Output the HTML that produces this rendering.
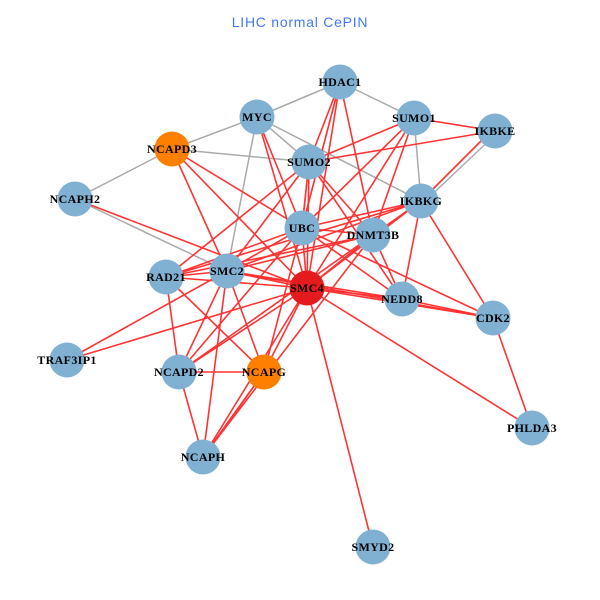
<!DOCTYPE html>
<html><head><meta charset="utf-8"><style>
html,body{margin:0;padding:0;background:#fff}
svg{display:block}
.t{font-family:"Liberation Serif",serif;font-weight:bold;font-size:12px;letter-spacing:.35px;text-anchor:middle;fill:#000}
</style></head><body>
<svg width="600" height="600" viewBox="0 0 600 600" xmlns="http://www.w3.org/2000/svg">
<text x="300" y="27" text-anchor="middle" style="font-family:'Liberation Sans',sans-serif;font-size:14px;letter-spacing:.75px;fill:#4477ff">LIHC normal CePIN</text>
<g stroke="#aaaaaa" stroke-width="1.5" fill="none">
<path d="M340 82L257 117M340 82L414 118M257 117L172 149M172 149L75 199M172 149L309 162M257 117L309 162M257 117L421 201M257 117L227 271M340 82L302 228M309 162L302 228M414 118L421 201M497 133L423 203M75 199L227 271"/>
</g>
<g stroke="#ff3333" stroke-width="1.6" fill="none">
<path d="M307 288L340 82M307 288L414 118M307 288L309 162M307 288L302 228M307 288L373 235M307 288L421 201M307 288L402 299M307 288L493 318M307 288L532 428M307 288L373 547M307 288L264 372M307 288L179 372M307 288L203 457M307 288L166 277M307 288L227 271M307 288L67 360M307 288L172 149M307 288L257 117M307 288L75 199"/>
<path d="M227 271L172 149M227 271L302 228M227 271L373 235M227 271L421 201M227 271L309 162M227 271L166 277M227 271L179 372M227 271L264 372M227 271L203 457M227 271L402 299M227 271L493 318M227 271L67 360"/>
<path d="M166 277L179 372M166 277L302 228M166 277L373 235M166 277L309 162M166 277L264 372M166 277L421 201"/>
<path d="M179 372L264 372M179 372L203 457M264 372L203 457M264 372L206 454M179 372L373 235M179 372L302 228M203 457L373 235M264 372L302 228"/>
<path d="M302 228L340 82M302 228L414 118M302 228L309 162M302 228L257 117M302 228L402 299M302 228L493 318M302 228L421 201M302 228L172 149M302 228L373 235"/>
<path d="M373 235L340 82M373 235L414 118M373 235L309 162M373 235L421 201M373 235L402 299M340 82L309 162"/>
<path d="M309 162L495 131M309 162L414 118M309 162L402 299M414 118L495 131M421 201L493 129M421 201L402 299M421 201L493 318M493 318L532 428M402 299L493 318"/>
</g>
<g fill="#80b1d3">
<circle cx="340" cy="82" r="17.5"/><circle cx="257" cy="117" r="17.5"/><circle cx="414" cy="118" r="17.5"/><circle cx="495" cy="131" r="17.5"/><circle cx="309" cy="162" r="17.5"/><circle cx="421" cy="201" r="17.5"/><circle cx="75" cy="199" r="17.5"/><circle cx="302" cy="228" r="17.5"/><circle cx="373" cy="235" r="17.5"/><circle cx="166" cy="277" r="17.5"/><circle cx="227" cy="271" r="17.5"/><circle cx="402" cy="299" r="17.5"/><circle cx="493" cy="318" r="17.5"/><circle cx="67" cy="360" r="17.5"/><circle cx="179" cy="372" r="17.5"/><circle cx="532" cy="428" r="17.5"/><circle cx="203" cy="457" r="17.5"/><circle cx="373" cy="547" r="17.5"/>
</g>
<circle cx="172" cy="149" r="17.5" fill="#ff7f00"/>
<circle cx="264" cy="372" r="17.5" fill="#ff7f00"/>
<circle cx="307" cy="288" r="17.5" fill="#e41a1c"/>
<g class="t">
<text class="t" x="340" y="86">HDAC1</text><text class="t" x="257" y="121">MYC</text><text class="t" x="414" y="122">SUMO1</text><text class="t" x="495" y="135">IKBKE</text><text class="t" x="172" y="153">NCAPD3</text><text class="t" x="309" y="166">SUMO2</text><text class="t" x="421" y="205">IKBKG</text><text class="t" x="75" y="203">NCAPH2</text><text class="t" x="302" y="232">UBC</text><text class="t" x="373" y="239">DNMT3B</text><text class="t" x="166" y="281">RAD21</text><text class="t" x="227" y="275">SMC2</text><text class="t" x="307" y="292">SMC4</text><text class="t" x="402" y="303">NEDD8</text><text class="t" x="493" y="322">CDK2</text><text class="t" x="67" y="364">TRAF3IP1</text><text class="t" x="179" y="376">NCAPD2</text><text class="t" x="264" y="376">NCAPG</text><text class="t" x="532" y="432">PHLDA3</text><text class="t" x="203" y="461">NCAPH</text><text class="t" x="373" y="551">SMYD2</text>
</g>
</svg>
</body></html>
